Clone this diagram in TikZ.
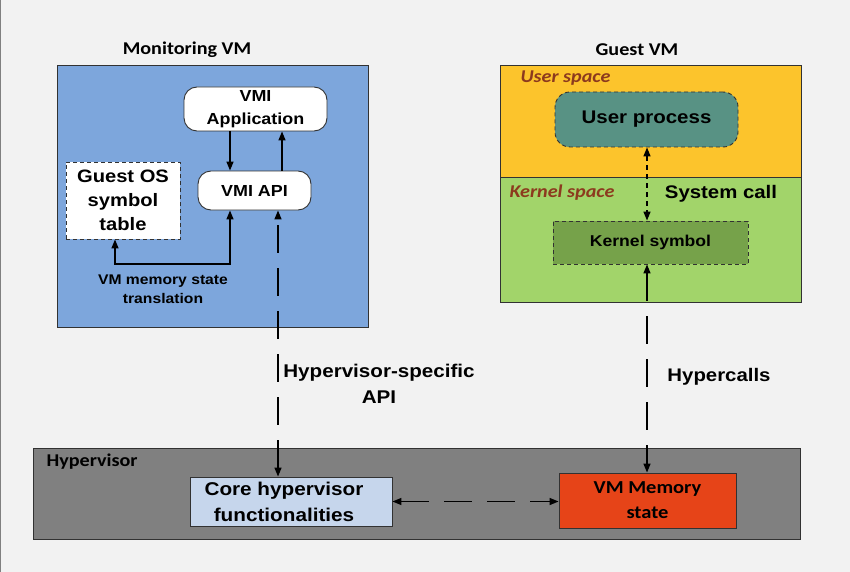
\documentclass[tikz,border=0pt]{standalone}
\usepackage{fontspec}
\setmainfont{Liberation Sans}
\newfontfamily\arsfont[FakeStretch=1.12]{Liberation Sans}
\newfontfamily\calfont[FakeStretch=1.12]{Carlito}
\usetikzlibrary{arrows.meta}
\definecolor{bgc}{RGB}{242,242,242}
\definecolor{monblue}{RGB}{125,166,220}
\definecolor{goldc}{RGB}{252,196,44}
\definecolor{lgreen}{RGB}{162,212,106}
\definecolor{tealc}{RGB}{88,146,132}
\definecolor{dgreen}{RGB}{118,162,74}
\definecolor{hypgray}{RGB}{128,128,128}
\definecolor{coreblue}{RGB}{198,214,236}
\definecolor{memred}{RGB}{230,68,24}
\definecolor{brownc}{RGB}{140,58,30}
\definecolor{edgec}{RGB}{50,50,50}
\tikzset{
  box/.style={draw=edgec, line width=0.9pt, inner sep=0pt, align=center},
  rbox/.style={box, rounded corners=13pt},
  dbox/.style={box, dash pattern=on 4pt off 3pt},
  cbig/.style={font=\calfont\bfseries\fontsize{18}{24}\selectfont, align=center},
  tip/.style={line width=1.4pt, -{Triangle[length=9pt,width=7pt]}},
  tipboth/.style={line width=1.4pt, {Triangle[length=9pt,width=7pt]}-{Triangle[length=9pt,width=7pt]}},
  longdash/.style={dash pattern=on 28pt off 15pt},
  shortdash/.style={dash pattern=on 5pt off 4pt}
}
\begin{document}
\begin{tikzpicture}[x=1pt,y=-1pt]
\fill[bgc] (0,0) rectangle (850,572);
\useasboundingbox (0,0) rectangle (850,572);
\draw[gray, line width=1pt] (0.5,0) -- (0.5,572);

% containers
\node[box, fill=monblue, minimum width=311pt, minimum height=262pt] (monvm) at (212.5,196) {};
\node[box, fill=goldc, minimum width=301pt, minimum height=112pt] (userspace) at (650.5,121) {};
\node[box, fill=lgreen, minimum width=301pt, minimum height=125pt] (kernspace) at (650.5,239.5) {};
\node[box, fill=hypgray, minimum width=767pt, minimum height=91pt] (hyp) at (416.5,493.5) {};

% titles
\node[cbig] (montitle) at (187,50) {Monitoring VM};
\node[cbig] (guesttitle) at (637,50) {Guest VM};
\node[cbig, anchor=west, font=\calfont\bfseries\itshape\fontsize{18}{24}\selectfont, text=brownc] (uslabel) at (517,78) {User space};
\node[cbig, anchor=west, font=\calfont\bfseries\itshape\fontsize{18}{24}\selectfont, text=brownc] (kslabel) at (506,193) {Kernel space};
\node[cbig, anchor=west] (hyplabel) at (43,462) {Hypervisor};

% inner boxes
\node[rbox, fill=white, minimum width=143pt, minimum height=44pt, font=\arsfont\bfseries\fontsize{16}{23}\selectfont] (vmiapp) at (255.5,109) {VMI\\Application};
\node[rbox, fill=white, minimum width=113pt, minimum height=39pt, font=\arsfont\bfseries\fontsize{16}{23}\selectfont] (vmiapi) at (254.5,190.5) {VMI API};
\node[dbox, fill=white, minimum width=114pt, minimum height=77pt, font=\arsfont\bfseries\fontsize{18}{24}\selectfont] (guestos) at (123,200.5) {Guest OS\\symbol\\table};
\node[dbox, rounded corners=15pt, fill=tealc, minimum width=183pt, minimum height=55pt, font=\arsfont\bfseries\fontsize{18.3}{24}\selectfont] (userproc) at (646.5,119.5) {User process};
\node[dbox, fill=dgreen, minimum width=195pt, minimum height=43pt, font=\arsfont\bfseries\fontsize{15.7}{22}\selectfont] (kernsym) at (650.5,242.5) {Kernel symbol};
\node[box, fill=coreblue, minimum width=202pt, minimum height=49pt] (core) at (291,501.5) {};
\node[font=\arsfont\bfseries\fontsize{18.5}{26}\selectfont, align=center] (corelbl) at ([xshift=-7pt]core.center) {Core hypervisor\\functionalities};
\node[box, fill=memred, minimum width=177pt, minimum height=55pt, font=\calfont\bfseries\fontsize{18.3}{25}\selectfont] (vmmem) at (647.5,500.5) {VM Memory\\state};

% free labels
\node[font=\arsfont\bfseries\fontsize{14}{19}\selectfont, align=center] (translbl) at (163,289) {VM memory state\\translation};
\node[font=\arsfont\bfseries\fontsize{18.2}{24}\selectfont] (syscall) at (721,194) {System call};
\node[font=\arsfont\bfseries\fontsize{18.4}{26}\selectfont, align=center] (hsapi) at (379,384) {Hypervisor-specific\\API};
\node[font=\arsfont\bfseries\fontsize{18.2}{24}\selectfont] (hcalls) at (719,377) {Hypercalls};

% helper coordinates
\coordinate (ca) at (230,0);
\coordinate (cb) at (282,0);
\coordinate (cc) at (278,0);
\coordinate (cd) at (647,0);
\coordinate (bend) at (115,264);

% connectors
\draw[tip] (vmiapp.south -| ca) -- (vmiapi.north -| ca);
\draw[tip] (vmiapi.north -| cb) -- (vmiapp.south -| cb);
\draw[tipboth] (vmiapi.south -| ca) -- (ca |- bend) -- (bend) -- (guestos.south -| bend);
\draw[tipboth, longdash] (core.north -| cc) -- (vmiapi.south -| cc);
\draw[tipboth, shortdash] (userproc.south -| cd) -- (kernsym.north -| cd);
\draw[tipboth, longdash] (kernsym.south -| cd) -- (vmmem.north -| cd);
\draw[tipboth, longdash] (core.east) -- (vmmem.west |- core.east);
\end{tikzpicture}
\end{document}
